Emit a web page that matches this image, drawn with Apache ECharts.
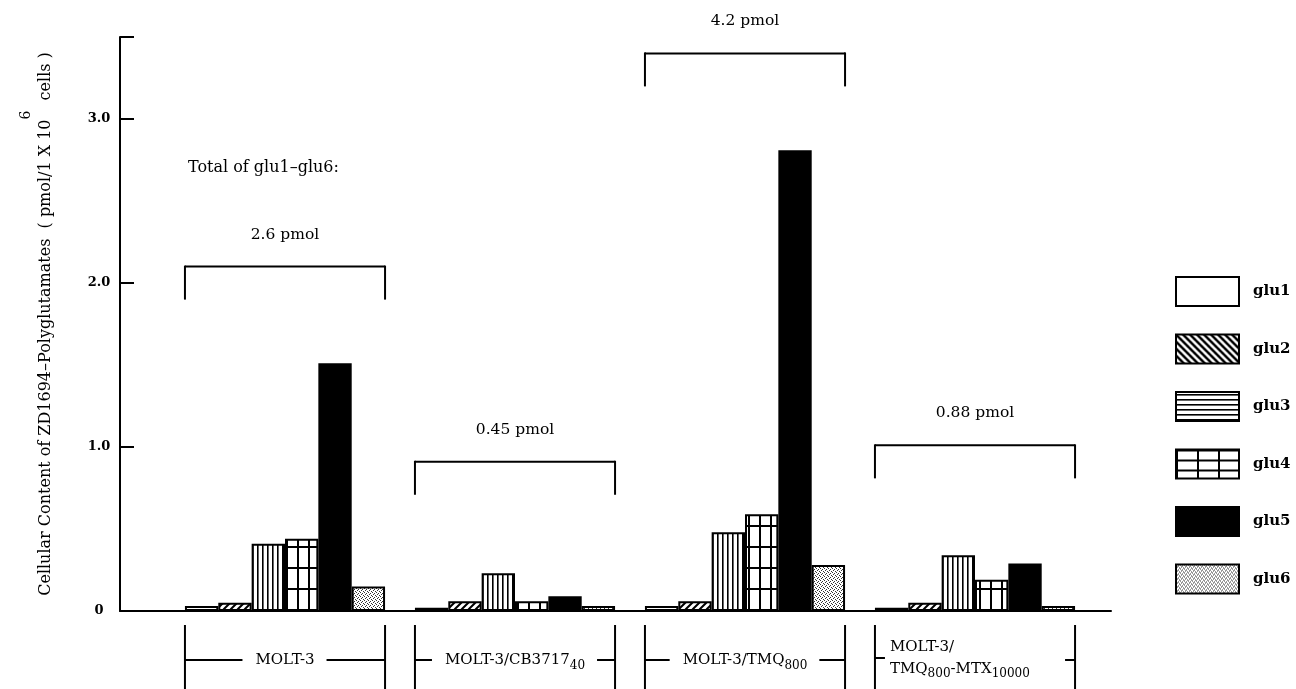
<!DOCTYPE html>
<html>
<head>
<meta charset="utf-8">
<script src="https://cdn.jsdelivr.net/npm/echarts@6/dist/echarts.min.js"></script>
<style>
html,body{margin:0;padding:0;background:#fff;}
#chart{width:1296px;height:689px;}
</style>
</head>
<body>
<div id="chart"></div>
<script>
// ---------- data ----------
const categories = ['MOLT-3', 'MOLT-3/CB3717{sub|40}', 'MOLT-3/TMQ{sub|800}', 'MOLT-3/\nTMQ{sub|800}-MTX{sub|10000}'];
const seriesNames = ['glu1', 'glu2', 'glu3', 'glu4', 'glu5', 'glu6'];
const glu1 = [0.03, 0.02, 0.03, 0.02];
const glu2 = [0.05, 0.06, 0.06, 0.05];
const glu3 = [0.41, 0.23, 0.48, 0.34];
const glu4 = [0.44, 0.06, 0.59, 0.19];
const glu5 = [1.51, 0.09, 2.81, 0.29];
const glu6 = [0.15, 0.03, 0.28, 0.03];
const totals = ['2.6 pmol', '0.45 pmol', '4.2 pmol', '0.88 pmol'];
const bracketAt = [2.10, 0.91, 3.40, 1.01];
const totalsHeading = 'Total of glu1–glu6:';
const yTicks = [0, 1, 2, 3];
const yAxisName = 'Cellular Content of ZD1694–Polyglutamates  ( pmol/1 X 10';
const yAxisNameTail = '  cells )';

// ---------- styles ----------
const FONT = 'DejaVu Serif';

function makePattern(w, h, draw) {
  const c = document.createElement('canvas');
  c.width = w; c.height = h;
  const ctx = c.getContext('2d');
  ctx.fillStyle = '#fff';
  ctx.fillRect(0, 0, w, h);
  ctx.fillStyle = '#000';
  ctx.strokeStyle = '#000';
  draw(ctx, w, h);
  return { image: c, repeat: 'repeat' };
}
const diagFwd = makePattern(7, 7, (ctx, w, h) => {
  ctx.lineWidth = 2;
  ctx.beginPath();
  ctx.moveTo(-1, h + 1); ctx.lineTo(w + 1, -1);
  ctx.moveTo(-1, 1); ctx.lineTo(1, -1);
  ctx.moveTo(w - 1, h + 1); ctx.lineTo(w + 1, h - 1);
  ctx.stroke();
});
const diagBack = makePattern(7, 7, (ctx, w, h) => {
  ctx.lineWidth = 2.5;
  ctx.beginPath();
  ctx.moveTo(-1, -1); ctx.lineTo(w + 1, h + 1);
  ctx.moveTo(w - 1, -1); ctx.lineTo(w + 1, 1);
  ctx.moveTo(-1, h - 1); ctx.lineTo(1, h + 1);
  ctx.stroke();
});
const vLines = makePattern(5, 4, (ctx, w, h) => { ctx.fillRect(2, 0, 1.6, h); });
const hLines = makePattern(4, 5, (ctx, w, h) => { ctx.fillRect(0, 2, w, 1.6); });
const gridV = makePattern(11, 21, (ctx, w, h) => { ctx.fillRect(0, 0, 2, h); ctx.fillRect(0, 0, w, 2); });
const gridH = makePattern(21, 10, (ctx, w, h) => { ctx.fillRect(0, 0, 2, h); ctx.fillRect(0, 0, w, 2); });
const stipple = makePattern(4, 4, (ctx) => {
  ctx.fillStyle = '#333';
  ctx.fillRect(0, 0, 1, 1); ctx.fillRect(2, 1, 1, 1); ctx.fillRect(1, 2, 1, 1); ctx.fillRect(3, 3, 1, 1);
});

const barFills = ['#ffffff', diagFwd, vLines, gridV, '#000000', stipple];
const legendFills = ['#ffffff', diagBack, hLines, gridH, '#000000', stipple];
const seriesData = [glu1, glu2, glu3, glu4, glu5, glu6];

const LABEL_SIZE = 15, SUB_SIZE = 12, TOTAL_SIZE = 15.5, HEAD_SIZE = 16;

// ---------- text measurement for labels ----------
const mctx = document.createElement('canvas').getContext('2d');
function measureRich(str, baseSize, subSize) {
  let w = 0;
  const re = /\{(\w+)\|([^}]*)\}/g;
  let last = 0, m;
  while ((m = re.exec(str)) !== null) {
    if (m.index > last) { mctx.font = baseSize + 'px "' + FONT + '"'; w += mctx.measureText(str.slice(last, m.index)).width; }
    mctx.font = subSize + 'px "' + FONT + '"'; w += mctx.measureText(m[2]).width;
    last = re.lastIndex;
  }
  if (last < str.length) { mctx.font = baseSize + 'px "' + FONT + '"'; w += mctx.measureText(str.slice(last)).width; }
  return w;
}

const labelRich = {
  sub: { fontSize: SUB_SIZE, fontFamily: FONT, verticalAlign: 'bottom', fill: '#000', color: '#000' }
};

function renderAnnot(params, api) {
  const i = api.value(0);
  const base = api.coord([i, 0]);
  const cx = base[0], y0 = base[1];
  const band = api.size([1, 0])[0];
  const half = band * 0.87 / 2;
  const xL = cx - half, xR = cx + half;
  const yTop = api.coord([i, api.value(1)])[1];
  const ln = (x1, y1, x2, y2) => ({ type: 'line', shape: { x1, y1, x2, y2 }, style: { stroke: '#000', lineWidth: 2 } });
  const children = [];
  // top bracket
  children.push(ln(xL, yTop, xR, yTop));
  children.push(ln(xL, yTop - 1, xL, yTop + 33));
  children.push(ln(xR, yTop - 1, xR, yTop + 33));
  children.push({
    type: 'text',
    style: { text: totals[i], x: cx, y: yTop - 32, fill: '#000', fontSize: TOTAL_SIZE, fontFamily: FONT,
      align: 'center', verticalAlign: 'middle', textAlign: 'center', textVerticalAlign: 'middle' }
  });
  if (i === 0) {
    children.push({
      type: 'text',
      style: { text: totalsHeading, x: xL + 3, y: yTop - 99, fill: '#000', fontSize: HEAD_SIZE, fontFamily: FONT,
        align: 'left', verticalAlign: 'middle', textAlign: 'left', textVerticalAlign: 'middle' }
    });
  }
  // bottom category bracket
  const yb1 = y0 + 14, yb2 = y0 + 85, ym = y0 + 49;
  children.push(ln(xL, yb1, xL, yb2));
  children.push(ln(xR, yb1, xR, yb2));
  const label = categories[i];
  if (label.indexOf('\n') >= 0) {
    children.push(ln(xL, ym - 2, xL + 10, ym - 2));
    children.push(ln(xR - 10, ym, xR, ym));
    children.push({
      type: 'text',
      style: { text: label, x: xL + 15, y: ym - 2, fill: '#000', fontSize: LABEL_SIZE, fontFamily: FONT, lineHeight: 22,
        align: 'left', verticalAlign: 'middle', textAlign: 'left', textVerticalAlign: 'middle', rich: labelRich }
    });
  } else {
    const w = measureRich(label, LABEL_SIZE, SUB_SIZE);
    const tl = cx - w / 2, tr = cx + w / 2;
    children.push(ln(xL, ym, Math.max(xL + 9, tl - 13), ym));
    children.push(ln(Math.min(xR - 9, tr + 12), ym, xR, ym));
    children.push({
      type: 'text',
      style: { text: label, x: cx, y: ym, fill: '#000', fontSize: LABEL_SIZE, fontFamily: FONT, lineHeight: 24,
        align: 'center', verticalAlign: 'middle', textAlign: 'center', textVerticalAlign: 'middle', rich: labelRich }
    });
  }
  return { type: 'group', children };
}

const chart = echarts.init(document.getElementById('chart'), null, { renderer: 'canvas' });

const barSeries = seriesNames.map((name, k) => ({
  name,
  type: 'bar',
  xAxisIndex: 1,
  yAxisIndex: 1,
  data: seriesData[k],
  barGap: '0%',
  barCategoryGap: '13%',
  itemStyle: { color: barFills[k], borderColor: '#000', borderWidth: 2 },
  emphasis: { disabled: true },
  animation: false
}));

const option = {
  backgroundColor: '#fff',
  animation: false,
  textStyle: { fontFamily: FONT, color: '#000' },
  grid: [
    { left: 120, right: 185, top: 37, bottom: 78 },
    { left: 170, width: 920, top: 37, bottom: 78 }
  ],
  xAxis: [
    { gridIndex: 0, type: 'value', min: 0, max: 1,
      axisLine: { show: true, lineStyle: { color: '#000', width: 2 } },
      axisTick: { show: false }, axisLabel: { show: false }, splitLine: { show: false } },
    { gridIndex: 1, type: 'category', data: categories, show: false }
  ],
  yAxis: [
    { gridIndex: 0, type: 'value', min: 0, max: 3.5, interval: 1,
      axisLine: { show: true, lineStyle: { color: '#000', width: 2 } },
      axisTick: { show: true, inside: true, length: 14, lineStyle: { color: '#000', width: 2 } },
      splitLine: { show: false },
      axisLabel: { show: true, margin: 21, align: 'center', color: '#000', fontFamily: FONT, fontWeight: 'bold', fontSize: 13,
        formatter: v => (yTicks.indexOf(v) < 0 ? '' : (v === 0 ? '0' : v.toFixed(1))) },
      name: '{m|' + yAxisName + '}{sup|6}{m|' + yAxisNameTail + '}',
      nameLocation: 'middle',
      nameGap: 47,
      nameTextStyle: { color: '#000', fontFamily: FONT, fontSize: 16, lineHeight: 54,
        rich: { m: { fontSize: 16, fontFamily: FONT, lineHeight: 54, verticalAlign: 'middle', color: '#000' },
                sup: { fontSize: 14, fontFamily: FONT, verticalAlign: 'top', color: '#000' } } }
    },
    { gridIndex: 1, type: 'value', min: 0, max: 3.5, show: false }
  ],
  legend: {
    orient: 'vertical',
    left: 1170,
    top: 271,
    itemWidth: 63,
    itemHeight: 29,
    itemGap: 26.5,
    selectedMode: false,
    icon: 'rect',
    textStyle: { color: '#000', fontFamily: FONT, fontWeight: 'bold', fontSize: 15, padding: [0, 0, 0, 9] },
    data: seriesNames.map((name, k) => ({
      name,
      icon: 'rect',
      itemStyle: { color: legendFills[k], borderColor: '#000', borderWidth: 2 }
    }))
  },
  series: barSeries.concat([{
    type: 'custom',
    xAxisIndex: 1,
    yAxisIndex: 1,
    clip: false,
    silent: true,
    z: 10,
    renderItem: renderAnnot,
    data: categories.map((c, i) => [i, bracketAt[i]])
  }])
};
chart.setOption(option);
</script>
</body>
</html>
